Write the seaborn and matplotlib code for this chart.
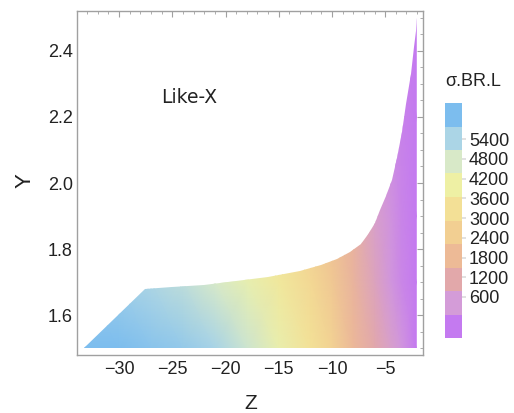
import numpy as np
import matplotlib
matplotlib.use("Agg")
import matplotlib.pyplot as plt
import seaborn as sns
from matplotlib.patches import Polygon
from matplotlib.colors import ListedColormap, BoundaryNorm, Normalize
from matplotlib.cm import ScalarMappable
from matplotlib.ticker import MultipleLocator, FormatStrFormatter

# value grid (sigma.BR.L over Z, Y)
grid_z = [-33.3, -30, -27, -24, -21, -18, -15, -12, -10, -8, -6, -4.5, -3.5, -2.08]
grid_y = [1.5, 1.7, 1.9, 2.2, 2.5]
sigma_y150 = [5800, 5700, 5550, 5400, 5150, 4650, 4050, 3350, 2800, 2050, 1500, 1100, 800, 300]
sigma_y170 = [5400, 5250, 5050, 4850, 4500, 4100, 3600, 3000, 2500, 1900, 1250, 800, 550, 300]
sigma_y190 = [5100, 4950, 4750, 4500, 4150, 3750, 3250, 2650, 2200, 1800, 1100, 750, 500, 280]
sigma_y220 = [4800, 4650, 4450, 4200, 3800, 3400, 2900, 2300, 1800, 1300, 950, 650, 450, 250]
sigma_y250 = [4500, 4350, 4150, 3900, 3500, 3100, 2600, 2000, 1600, 1100, 850, 600, 400, 220]

# outline of the allowed region
edge_z = [-33.3, -27.6, -25, -22, -19, -16, -13, -11, -9.5, -8.3, -7.3, -6.5, -6.0,
          -5.47, -4.9, -4.4, -3.9, -3.45, -3.0, -2.6, -2.3, -2.15, -2.05, -2.05]
edge_y = [1.5, 1.68, 1.686, 1.693, 1.703, 1.717, 1.735, 1.752, 1.770, 1.792, 1.815,
          1.850, 1.878, 1.918, 1.962, 2.01, 2.075, 2.155, 2.24, 2.33, 2.41, 2.46, 2.5, 1.5]

# legend bands (low -> high)
levels = [0, 600, 1200, 1800, 2400, 3000, 3600, 4200, 4800, 5400, 6000]
band_colors = ["#c47af0", "#d49cd8", "#e2a8aa", "#edba96", "#f2cf92",
               "#f3e096", "#eef0a4", "#d8e9c8", "#abd5e6", "#7cbdee"]
legend_labels = [600, 1200, 1800, 2400, 3000, 3600, 4200, 4800, 5400]

sns.set_theme(style="white")
plt.rcParams["font.family"] = ["Liberation Sans", "DejaVu Sans"]

fig = plt.figure(figsize=(5.14, 4.13), dpi=100)
ax = fig.add_axes([77 / 514, 58 / 413, 346 / 514, 344 / 413])

Z, Y = np.meshgrid(grid_z, grid_y)
S = np.array([sigma_y150, sigma_y170, sigma_y190, sigma_y220, sigma_y250])
smooth = sns.blend_palette(band_colors, as_cmap=True)
mesh = ax.pcolormesh(Z, Y, S, shading="gouraud", cmap=smooth,
                     norm=Normalize(300, 5700))
region = Polygon(np.column_stack([edge_z, edge_y]), closed=True,
                 facecolor="none", edgecolor="none", transform=ax.transData)
ax.add_patch(region)
mesh.set_clip_path(region)

ax.set_xlim(-33.95, -1.45)
ax.set_ylim(1.48, 2.52)
ax.xaxis.set_major_locator(MultipleLocator(5))
ax.xaxis.set_minor_locator(MultipleLocator(1))
ax.yaxis.set_major_locator(MultipleLocator(0.2))
ax.yaxis.set_minor_locator(MultipleLocator(0.05))
ax.yaxis.set_major_formatter(FormatStrFormatter("%.1f"))
ax.tick_params(which="both", direction="in", top=True, right=True,
               color="#a0a0a0", labelcolor="#222222", labelsize=13)
ax.tick_params(which="major", length=4.3, width=0.8, pad=4)
ax.tick_params(which="minor", length=2.2, width=0.6)
ax.tick_params(axis="y", which="major", pad=3)
for sp in ax.spines.values():
    sp.set_color("#a0a0a0")
    sp.set_linewidth(1)

ax.set_xlabel("Z", fontsize=15, color="#222222")
ax.set_ylabel("Y", fontsize=16, color="#222222")
ax.xaxis.set_label_coords(0.502, -0.113)
ax.yaxis.set_label_coords(-0.12, 0.507)

ax.text(-23.4, 2.26, "Like-X", fontsize=13.5, family="DejaVu Sans",
        ha="center", va="center", color="#222222")

# discrete legend bar
cax = fig.add_axes([445 / 514, 75 / 413, 17 / 514, 235 / 413])
sm = ScalarMappable(norm=BoundaryNorm(levels, len(band_colors)),
                    cmap=ListedColormap(band_colors))
cb = fig.colorbar(sm, cax=cax)
cb.outline.set_visible(False)
cb.minorticks_off()
# labels sit a bit tighter than the bands, as in the original legend
tick_pos = [1047 + (v - 600) / 600 * 504 for v in legend_labels]
cb.set_ticks(tick_pos, labels=[str(v) for v in legend_labels])
cax.tick_params(length=3, color="#dddddd", labelsize=13, pad=2,
                labelcolor="#222222")
fig.text(445 / 514, 1 - 81 / 413, "σ.BR.L", fontsize=13, ha="left",
         va="center", color="#222222")

fig.savefig("out.png", dpi=100, facecolor="white")
